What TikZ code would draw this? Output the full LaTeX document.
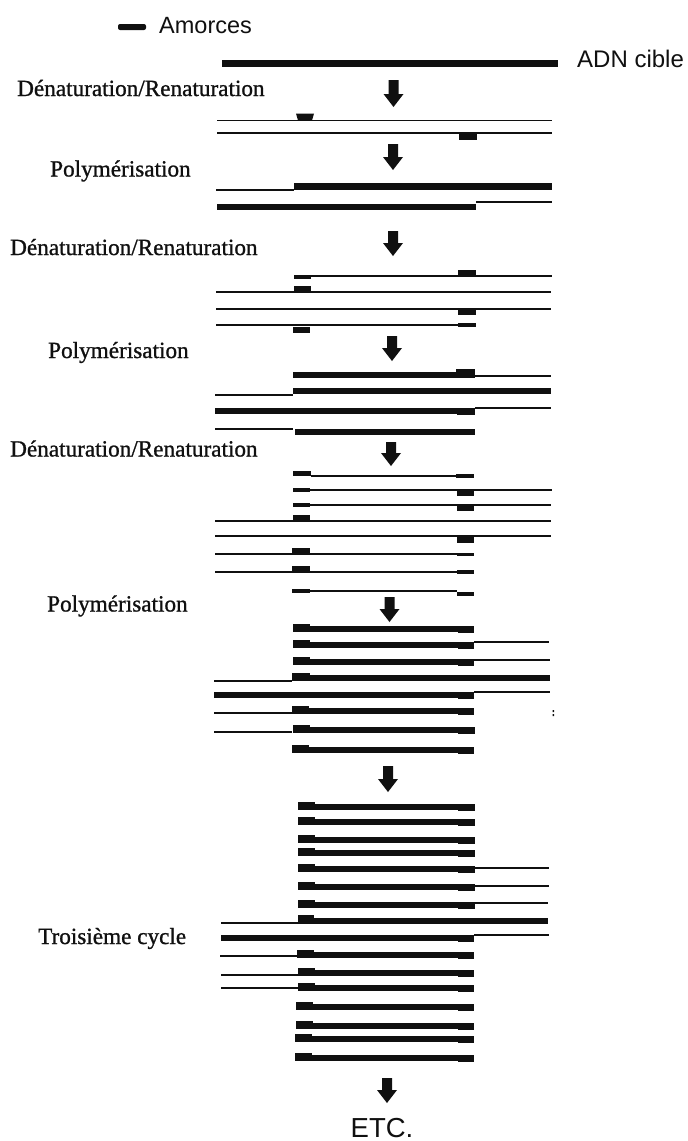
\documentclass[tikz,border=0pt]{standalone}
\usepackage{fontspec}
\setmainfont{Liberation Sans}
\newfontfamily\serifl[FakeBold=1]{Liberation Serif}
\newcommand{\thinl}[3]{\draw[thinstrand] (#1,#3) -- (#2,#3);}
\newcommand{\thickl}[3]{\fill[ink] (#1,#3-3.3) rectangle (#2,#3+3.3);}
\newcommand{\prim}[4]{\fill[ink] (#1,#3) rectangle (#2,#4);}
\newcommand{\blockarrow}[3]{\fill[ink] (#1-5,#2) -- (#1+5,#2) -- (#1+5,#3-13) -- (#1+10,#3-13) -- (#1,#3) -- (#1-10,#3-13) -- (#1-5,#3-13) -- cycle;}
\newcommand{\serlab}[3]{\node[serlabel,anchor=base west] at (#1,#2) {#3};}
\newcommand{\fullstrand}[3]{\thickl{#1}{#2}{#3}\prim{#1}{#1+17}{#3-5}{#3+3}\prim{458}{#2}{#3-2}{#3+4}}
\tikzset{thinstrand/.style={draw=ink,line width=1.3pt},
 serlabel/.style={inner sep=0pt,text=ink,font=\serifl\fontsize{23.2}{24}\selectfont},
 sanslabel/.style={inner sep=0pt,font=\fontsize{24}{24}\selectfont,text=ink}}
\definecolor{ink}{HTML}{101010}
\begin{document}
\begin{tikzpicture}[x=1pt,y=-1pt]
\useasboundingbox (0,0) rectangle (688,1141);
\fill[white] (0,0) rectangle (688,1141);
% legend
\fill[ink,rounded corners=2pt] (118,24) rectangle (146,30);
\node[sanslabel,anchor=base west,font=\fontsize{23.5}{24}\selectfont] (amorces) at (159,33.5) {Amorces};
\node[sanslabel,anchor=base west] (adn) at (577,67) {ADN cible};
\fill[ink] (222,60) rectangle (558,66.5);
% labels
\serlab{17}{96}{Dénaturation/Renaturation}
\serlab{50}{176.5}{Polymérisation}
\serlab{10}{255}{Dénaturation/Renaturation}
\serlab{48}{358}{Polymérisation}
\serlab{10}{456.5}{Dénaturation/Renaturation}
\serlab{47}{611.5}{Polymérisation}
\serlab{38}{944}{Troisième cycle}
\node[sanslabel,anchor=base,font=\fontsize{27.5}{28}\selectfont] (etc) at (382,1137.5) {ETC.};
% arrows
\blockarrow{393.5}{80}{107}
\blockarrow{393}{144}{170}
\blockarrow{393}{231}{256}
\blockarrow{392}{336}{361}
\blockarrow{391}{442}{466}
\blockarrow{389.5}{597}{622}
\blockarrow{388}{766}{792}
\blockarrow{387}{1078}{1103}
% step 1
\thinl{217}{552}{120.5}\fill[ink] (296,113.5) -- (314,113.5) -- (312,120.5) -- (298,120.5) -- cycle;
\thinl{217}{552}{133}\prim{459}{477}{133}{140}
% poly 1
\thinl{216}{294}{190}\thickl{294}{552}{186.5}\prim{294}{311}{183}{189}
\thickl{217}{476}{207}\thinl{476}{552}{202}
% denat 2
\prim{294}{311}{275}{279}\thinl{311}{552}{276}\prim{458}{476}{270}{276}
\thinl{216}{551}{292}\prim{294}{311}{286}{292}
\thinl{216}{551}{309}\prim{458}{476}{310}{315}
\thinl{216}{458}{325}\prim{458}{476}{323}{327}\prim{293}{310}{327}{333}
% poly 2
\thickl{293}{475}{375}\prim{456}{475}{369}{375}\thinl{475}{551}{376}
\prim{293}{310}{388}{394}\thickl{310}{551}{391}\thinl{215}{293}{395}
\thickl{215}{475}{411}\prim{457}{475}{408}{415}\thinl{475}{551}{408}
\thinl{215}{293}{429}\thickl{295}{475}{432}
% denat 3
\prim{293}{311}{471}{476}\thinl{311}{457}{476}\prim{456}{474}{474}{478}
\prim{293}{310}{488}{492}\thinl{310}{552}{490}\prim{457}{474}{491}{496}
\prim{293}{310}{503}{507}\thinl{310}{551}{505}\prim{457}{474}{506}{511}
\prim{293}{310}{515}{521}\thinl{215}{551}{521}
\thinl{215}{551}{536}\prim{457}{474}{537}{543}
\thinl{215}{457}{554}\prim{292}{310}{548}{554}\prim{457}{474}{553}{556}
\thinl{215}{457}{572}\prim{292}{310}{566}{572}\prim{457}{474}{570}{574}
\prim{292}{310}{589}{593}\thinl{310}{457}{591}\prim{457}{474}{592}{596}
% poly 3
\fullstrand{293}{474}{629}
\fullstrand{293}{474}{645}\thinl{474}{549}{642}
\fullstrand{293}{474}{662}\thinl{474}{550}{660}
\thickl{292}{550}{678}\prim{292}{310}{673}{680}\thinl{214}{292}{681}
\thickl{214}{474}{695}\prim{458}{474}{693}{699}\thinl{474}{550}{692}
\thinl{214}{292}{713}\fullstrand{292}{474}{711}
\thinl{214}{292}{732}\fullstrand{293}{475}{730}
\fullstrand{292}{474}{750}
\fill[ink] (552.5,710) rectangle (554,712) (552.5,714) rectangle (554,716);
% cycle 3
\foreach \yy in {807,822,840,853,869,887,905}{\fullstrand{298}{475}{\yy}}
\thinl{474}{549}{868}\thinl{474}{549}{886}\thinl{474}{548}{903}
\thickl{298}{548}{921}\prim{298}{314}{915}{922}\thinl{221}{298}{923}
\thickl{221}{474}{938}\prim{458}{474}{936}{942}\thinl{474}{549}{935}
\fullstrand{297}{474}{955}\thinl{220}{297}{956}
\fullstrand{298}{474}{973}\thinl{221}{298}{975}
\fullstrand{298}{474}{988}\thinl{221}{298}{988}
\foreach \xx/\yy in {296/1007,296/1026,295/1039,295/1058}{\fullstrand{\xx}{474}{\yy}}
\end{tikzpicture}
\end{document}
